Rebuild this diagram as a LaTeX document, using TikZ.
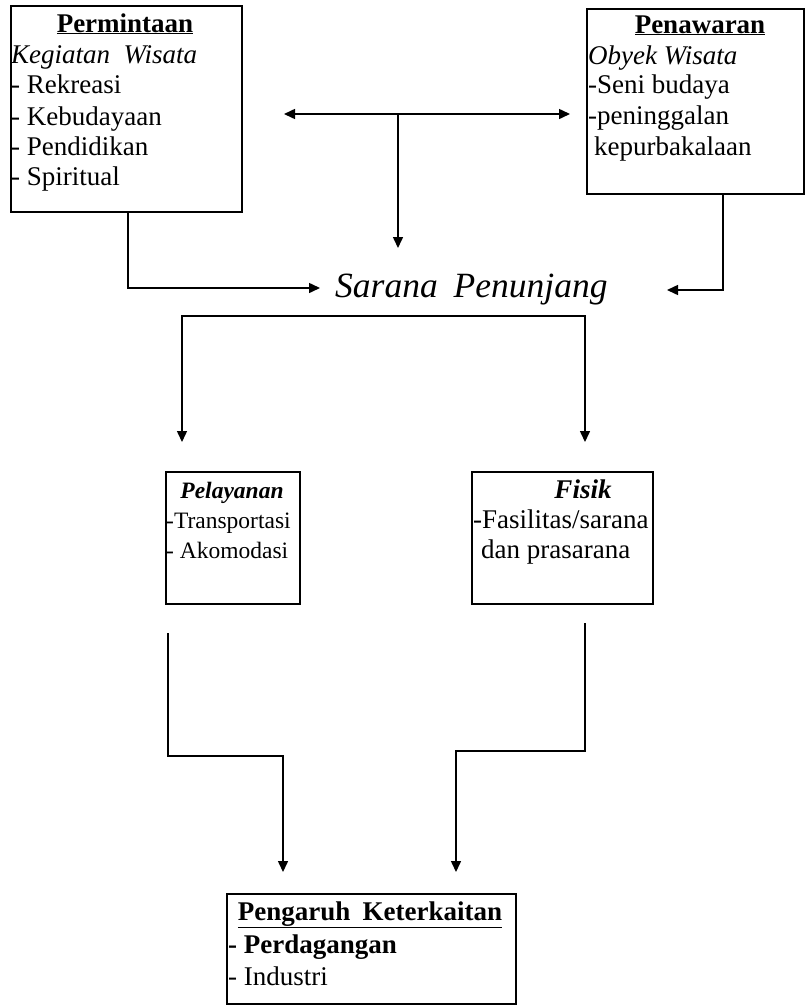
\documentclass[tikz,border=0pt]{standalone}
\usepackage{fontspec}
\setmainfont{Liberation Serif}
\usetikzlibrary{arrows.meta}
\begin{document}
\begin{tikzpicture}[x=1pt,y=-1pt,
  box/.style={draw,line width=1.6pt,rectangle,inner sep=0pt,anchor=north west},
  txt/.style={anchor=base west,inner sep=0pt,font=\fontsize{27}{32}\selectfont},
  ctxt/.style={anchor=base,inner sep=0pt,font=\fontsize{27}{32}\selectfont},
  stxt/.style={anchor=base west,inner sep=0pt,font=\fontsize{23.5}{28}\selectfont},
  sctxt/.style={anchor=base,inner sep=0pt,font=\fontsize{23.5}{28}\selectfont},
  conn/.style={line width=1.5pt},
  tip/.style={-{Triangle[length=11pt,width=10pt]}},
  tips/.style={{Triangle[length=11pt,width=10pt]}-{Triangle[length=11pt,width=10pt]}}]
\useasboundingbox (0,0) rectangle (806,1007);

% boxes
\node[box,minimum width=231pt,minimum height=206pt] (perm) at (10,5) {};
\node[box,minimum width=217pt,minimum height=185pt] (pen) at (586,8) {};
\node[box,minimum width=134pt,minimum height=132pt] (pel) at (165,471) {};
\node[box,minimum width=181pt,minimum height=132pt] (fis) at (471,471) {};
\node[box,minimum width=289pt,minimum height=110pt] (peng) at (226,893) {};

% Permintaan text
\node[ctxt] (permh) at (125,32) {\textbf{\underline{Permintaan}}};
\node[txt] (perm1) at (11,63) {\textit{Kegiatan\hspace{0.5em}Wisata}};
\node[txt] (perm2) at (11,93) {- Rekreasi};
\node[txt] (perm3) at (11,125) {- Kebudayaan};
\node[txt] (perm4) at (11,155) {- Pendidikan};
\node[txt] (perm5) at (11,185) {- Spiritual};

% Penawaran text
\node[ctxt] (penh) at (700,33) {\textbf{\underline{Penawaran}}};
\node[txt] (pen1) at (588,64) {\textit{Obyek Wisata}};
\node[txt] (pen2) at (588,93) {-Seni budaya};
\node[txt] (pen3) at (588,124) {-peninggalan};
\node[txt] (pen4) at (594,155) {kepurbakalaan};

% Sarana Penunjang
\node[anchor=base west,inner sep=0pt,font=\fontsize{35.5}{42}\selectfont\itshape] (sar) at (335,297) {Sarana\hspace{0.45em}Penunjang};

% Pelayanan / Fisik text
\node[sctxt] (pelh) at (232,498) {\textbf{\textit{Pelayanan}}};
\node[stxt] (pel1) at (166,528) {-Transportasi};
\node[stxt] (pel2) at (166,558) {- Akomodasi};
\node[ctxt] (fish) at (583,498) {\textbf{\textit{Fisik}}};
\node[txt] (fis1) at (473,528) {-Fasilitas/sarana};
\node[txt] (fis2) at (481,558) {dan prasarana};

% Pengaruh text
\node[ctxt] (pengh) at (370,920) {\textbf{\underline{Pengaruh\hspace{0.45em}Keterkaitan}}};
\node[txt] (peng1) at (228,953) {\textbf{- Perdagangan}};
\node[txt] (peng2) at (228,985) {- Industri};

% connector coordinates
\coordinate (dL) at (284,114);
\coordinate (dR) at (570,114);
\coordinate (dM) at (398,114);
\coordinate (dMe) at (398,248);
\coordinate (lA) at (128,211);
\coordinate (lB) at (128,288);
\coordinate (lE) at (320,288);
\coordinate (rA) at (723,193);
\coordinate (rB) at (723,290);
\coordinate (rE) at (667,290);
\coordinate (sL) at (182,442);
\coordinate (sL2) at (182,316);
\coordinate (sR2) at (585,316);
\coordinate (sR) at (585,442);
\coordinate (pA) at (168,633);
\coordinate (pB) at (168,756);
\coordinate (pC) at (283,756);
\coordinate (pE) at (283,872);
\coordinate (fA) at (585,623);
\coordinate (fB) at (585,751);
\coordinate (fC) at (456,751);
\coordinate (fE) at (456,872);

% connectors
\draw[conn,tips] (dL) -- (dR);
\draw[conn,tip] (dM) -- (dMe);
\draw[conn,tip] (lA) -- (lB) -- (lE);
\draw[conn,tip] (rA) -- (rB) -- (rE);
\draw[conn,tips] (sL) -- (sL2) -- (sR2) -- (sR);
\draw[conn,tip] (pA) -- (pB) -- (pC) -- (pE);
\draw[conn,tip] (fA) -- (fB) -- (fC) -- (fE);
\end{tikzpicture}
\end{document}
